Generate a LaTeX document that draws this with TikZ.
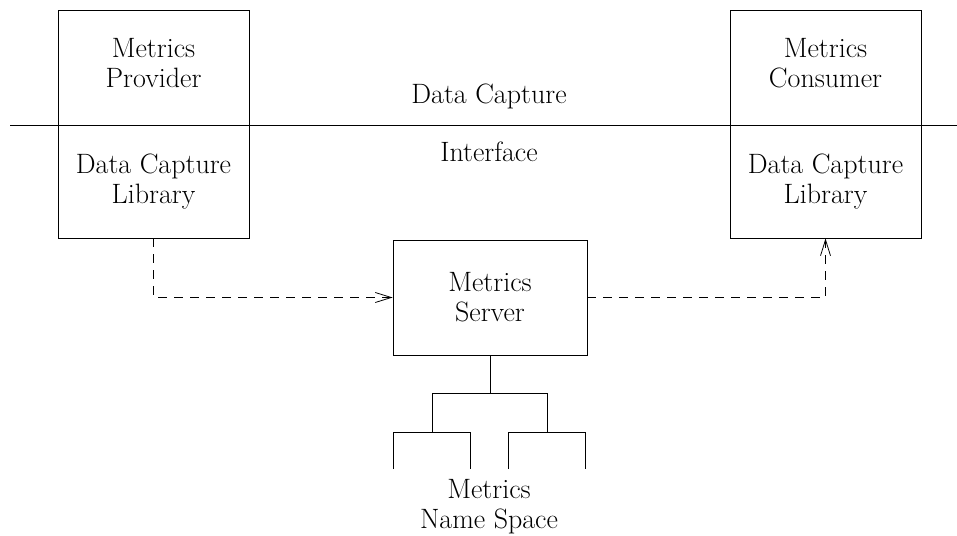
\documentclass[tikz,border=0pt]{standalone}
\usetikzlibrary{arrows.meta}
\begin{document}
\begin{tikzpicture}[x=1pt,y=-1pt,
  box/.style={draw,line width=0.8pt,align=center,font=\fontsize{28}{30}\selectfont,inner sep=0pt},
  lbl/.style={align=center,font=\fontsize{28}{30}\selectfont,inner sep=0pt},
  dashline/.style={line width=0.8pt,dash pattern=on 9pt off 7pt,-{Straight Barb[length=16pt,width=10pt,line width=0.8pt]}},
  solid line/.style={line width=0.8pt}]
\useasboundingbox (0,0) rectangle (957,535);
% upper boxes
\node[box,minimum width=191pt,minimum height=115pt] (mp) at (153.5,67.5) {};
\node[lbl] (mpt) at (153.5,63.5) {Metrics\\Provider};
\node[box,minimum width=191pt,minimum height=113pt] (dcl) at (153.5,181.5) {Data Capture\\Library};
\node[box,minimum width=191pt,minimum height=115pt] (mc) at (825.5,67.5) {};
\node[lbl] (mct) at (825.5,63.5) {Metrics\\Consumer};
\node[box,minimum width=191pt,minimum height=113pt] (dcr) at (825.5,181.5) {Data Capture\\Library};
% interface line
\coordinate (il) at (10,125);
\coordinate (ir) at (957,125);
\draw[solid line] (il) -- (ir);
\node[lbl] (dc) at (489,96) {Data Capture};
\node[lbl] (itf) at (489,152) {Interface};
% server
\node[box,minimum width=194pt,minimum height=115pt] (srv) at (490,297.5) {Metrics\\Server};
\draw[dashline] (dcl.south) |- (srv.west);
\draw[dashline] (srv.east) -| (dcr.south);
% name space tree
\coordinate (t0) at (490,393);
\coordinate (tl) at (432,393);
\coordinate (tr) at (547,393);
\coordinate (tla) at (432,432);
\coordinate (tra) at (547,432);
\draw[solid line] (srv.south) -- (t0);
\draw[solid line] (tla) -- (tl) -- (tr) -- (tra);
\coordinate (l1) at (393,469);
\coordinate (l1t) at (393,432);
\coordinate (l2) at (470,469);
\coordinate (l2t) at (470,432);
\coordinate (r1) at (508,469);
\coordinate (r1t) at (508,432);
\coordinate (r2) at (585,469);
\coordinate (r2t) at (585,432);
\draw[solid line] (l1) -- (l1t) -- (l2t) -- (l2);
\draw[solid line] (r1) -- (r1t) -- (r2t) -- (r2);
\node[lbl] (ns) at (489,507) {Metrics\\Name Space};
\end{tikzpicture}
\end{document}
